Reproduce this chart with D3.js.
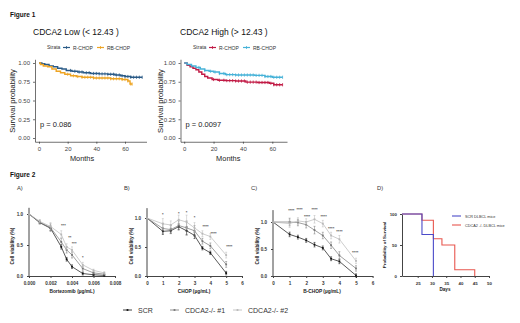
<!DOCTYPE html>
<html><head><meta charset="utf-8">
<script src="https://cdn.jsdelivr.net/npm/d3@7"></script>
<style>body{margin:0;background:#fff} svg{display:block} text{font-family:"Liberation Sans",Arial,sans-serif}</style>
</head><body><svg id="c" width="520" height="323"></svg>
<script>
// ---------- Figure 1 data (Kaplan-Meier) ----------
const kmTicksY = [0, 0.25, 0.5, 0.75, 1];
const kmTicksX = [0, 20, 40, 60];
const lowR_t = [0, 2, 4, 7, 10, 13, 16, 19, 23, 27, 31, 36, 42, 48, 53, 57, 60, 64, 72];
const lowR_s = [1, 0.99, 0.98, 0.96, 0.95, 0.93, 0.92, 0.90, 0.89, 0.88, 0.87, 0.86, 0.855, 0.85, 0.84, 0.83, 0.82, 0.81, 0.81];
const lowR_c = [22,25,28,30,33,35,38,40,42,44,46,48,50,52,54,56,58,60,62,64,66,68,70,72];
const lowRB_t = [0, 1, 3, 6, 9, 12, 15, 18, 22, 26, 30, 38, 50, 58, 62, 63.5, 65];
const lowRB_s = [1, 0.98, 0.96, 0.95, 0.92, 0.89, 0.87, 0.85, 0.83, 0.82, 0.81, 0.80, 0.79, 0.78, 0.76, 0.72, 0.72];
const lowRB_c = [20,24,27,30,32,34,36,38,40,42,44,46,48,50,52,54,56,58,60,62,64,65];
const highR_t = [0, 2, 4, 6, 8, 10, 12, 14, 16, 19, 23, 28, 35, 42, 50, 58, 61, 67];
const highR_s = [1, 0.97, 0.95, 0.93, 0.91, 0.88, 0.85, 0.82, 0.80, 0.78, 0.77, 0.765, 0.76, 0.745, 0.74, 0.73, 0.71, 0.71];
const highR_c = [20,24,27,29,31,33,35,37,39,41,43,45,47,49,51,53,55,57,59,61,63,65,67];
const highRB_t = [0, 2, 5, 8, 11, 14, 17, 20, 24, 28, 35, 48, 55, 60, 67];
const highRB_s = [1, 0.98, 0.96, 0.94, 0.92, 0.90, 0.89, 0.88, 0.86, 0.845, 0.84, 0.835, 0.82, 0.81, 0.81];
const highRB_c = [10,14,18,21,24,27,29,31,33,35,37,39,41,43,45,47,49,51,53,55,57,59,61,63,65,67];

// ---------- Figure 2 data ----------
const A_x = [0, 0.001, 0.002, 0.003, 0.0035, 0.004, 0.005, 0.006, 0.007];
const A_scr = [1.0, 0.86, 0.77, 0.47, 0.27, 0.15, 0.04, 0.02, 0.01];
const A_k1 = [1.0, 0.87, 0.78, 0.55, 0.42, 0.34, 0.12, 0.05, 0.03];
const A_k2 = [1.0, 0.88, 0.80, 0.67, 0.47, 0.42, 0.18, 0.09, 0.05];
const A_err = [0, 0.03, 0.06, 0.06, 0.05, 0.05, 0.04, 0.02, 0.02];
const A_stars = [[0.0032, 0.79, "***"], [0.0038, 0.60, "**"], [0.0042, 0.50, "***"], [0.005, 0.28, "*"]];
const A_ticksX = [0, 0.002, 0.004, 0.006, 0.008];

const B_x = [0, 1, 1.5, 2, 2.5, 3, 3.5, 4, 5];
const B_scr = [1.0, 0.77, 0.78, 0.85, 0.78, 0.70, 0.48, 0.40, 0.05];
const B_k1 = [1.0, 0.82, 0.80, 0.87, 0.83, 0.78, 0.60, 0.52, 0.20];
const B_k2 = [1.0, 0.90, 0.88, 0.97, 0.93, 0.83, 0.73, 0.68, 0.36];
const B_err = [0, 0.09, 0.07, 0.08, 0.12, 0.09, 0.05, 0.05, 0.05];
const B_stars = [[1, 1.03, "*"], [2, 1.05, "*"], [2.5, 1.07, "*"], [3, 0.99, "*"], [3.7, 0.83, "****"], [4.2, 0.71, "****"], [5.2, 0.48, "****"]];
const C_x = [0, 1, 1.5, 2, 2.5, 3, 3.5, 4, 5];
const C_scr = [1.0, 0.77, 0.72, 0.66, 0.58, 0.52, 0.32, 0.27, 0.01];
const C_k1 = [1.0, 1.0, 0.99, 0.95, 0.85, 0.75, 0.57, 0.38, 0.14];
const C_k2 = [1.0, 0.97, 1.02, 1.00, 1.05, 0.97, 0.75, 0.68, 0.28];
const C_err = [0, 0.07, 0.06, 0.06, 0.07, 0.06, 0.06, 0.07, 0.05];
const C_stars = [[1.1, 1.18, "****"], [1.6, 1.2, "****"], [2.05, 1.08, "****"], [2.5, 1.2, "****"], [3.05, 1.08, "****"], [3.5, 0.86, "****"], [4.0, 0.79, "****"], [4.95, 0.41, "****"]];
const BC_ticksX = [0, 1, 2, 3, 4, 5, 6];
const viaTicksY = [0, 0.5, 1.0];

const D_scr_t = [19.5, 26.5, 30.5];
const D_scr_s = [100, 67, 0];
const D_ko_t = [19.5, 26.5, 30.5, 33.5, 38, 45];
const D_ko_s = [100, 90, 60, 50, 10, 0];
const D_ticksX = [25, 30, 35, 40, 45, 50];
const D_ticksY = [0, 50, 100];
const seriesNames = ["SCR", "CDCA2-/- #1", "CDCA2-/- #2"];

const svg = d3.select("#c");
svg.append("rect").attr("width", 520).attr("height", 323).attr("fill", "#fff");

function txt(x, y, s, size, opts = {}) {
  const t = svg.append("text").attr("x", x).attr("y", y).text(s)
    .attr("font-size", size).attr("fill", opts.fill || "#222")
    .attr("text-anchor", opts.anchor || "start");
  if (opts.bold) t.attr("font-weight", "bold");
  if (opts.rot) t.attr("transform", `rotate(-90,${x},${y})`);
  return t;
}

// ---------- Figure 1 ----------
txt(10, 17, "Figure 1", 6.5, {bold: true, fill: "#111"});
function km(cfg) {
  const x = d3.scaleLinear().domain(cfg.xd).range(cfg.xr);
  const y = d3.scaleLinear().domain([-0.05, 1.05]).range([141.75, 59.25]);
  const g = svg.append("g");
  const ax = g.append("g").attr("transform", `translate(${cfg.xr[0]},0)`)
    .call(d3.axisLeft(y).tickValues(kmTicksY).tickFormat(d3.format(".2f")).tickSize(2).tickSizeOuter(0));
  const bx = g.append("g").attr("transform", `translate(0,141.75)`)
    .call(d3.axisBottom(x).tickValues(kmTicksX).tickSize(2).tickSizeOuter(0));
  [ax, bx].forEach(a => { a.selectAll("path,line").attr("stroke", "#333").attr("stroke-width", 0.7);
    a.selectAll("text").attr("font-size", 6).attr("fill", "#444").attr("font-family", "Liberation Sans"); });
  cfg.series.forEach(s => {
    const pts = s.t.map((t, i) => [t, s.s[i]]);
    g.append("path").datum(pts).attr("fill", "none").attr("stroke", s.col).attr("stroke-width", 1.4)
      .attr("d", d3.line().x(d => x(d[0])).y(d => y(d[1])).curve(d3.curveStepAfter));
    s.c.forEach(ct => {
      const sv = s.s[Math.max(0, d3.bisectRight(s.t, ct) - 1)];
      g.append("line").attr("x1", x(ct)).attr("x2", x(ct)).attr("y1", y(sv) - 1.6).attr("y2", y(sv) + 1.6)
        .attr("stroke", s.col).attr("stroke-width", 0.8);
    });
  });
  txt(cfg.title[0], 35, cfg.title[1], 8.5, {fill: "#111"});
  // legend
  let lx = cfg.leg;
  txt(lx, 49, "Strata", 5, {fill: "#333"});
  lx += 16;
  cfg.series.forEach(s => {
    g.append("line").attr("x1", lx).attr("x2", lx + 7).attr("y1", 47.5).attr("y2", 47.5).attr("stroke", s.col).attr("stroke-width", 1.2);
    g.append("line").attr("x1", lx + 3.5).attr("x2", lx + 3.5).attr("y1", 46).attr("y2", 49).attr("stroke", s.col).attr("stroke-width", 0.8);
    txt(lx + 10, 49.5, s.name, 5, {fill: "#333"});
    lx += s.name === "R-CHOP" ? 34 : 36;
  });
  txt(cfg.xr[0] + 5, 127, cfg.p, 7.5, {fill: "#222"});
  txt(cfg.ylab, 101, "Survival probability", 7.6, {rot: true, anchor: "middle", fill: "#222"});
  txt(x(30), 161, "Months", 7.4, {anchor: "middle", fill: "#222"});
}
km({xd: [-2.8, 75], xr: [35, 146.5], title: [33, "CDCA2 Low (< 12.43 )"], leg: 47, p: "p = 0.086", ylab: 15,
  series: [{name: "R-CHOP", col: "#2B5B87", t: lowR_t, s: lowR_s, c: lowR_c},
           {name: "RB-CHOP", col: "#EEA423", t: lowRB_t, s: lowRB_s, c: lowRB_c}]});
km({xd: [-2.5, 70], xr: [180.5, 287], title: [180, "CDCA2 High (> 12.43 )"], leg: 193, p: "p = 0.0097", ylab: 163,
  series: [{name: "R-CHOP", col: "#C11A45", t: highR_t, s: highR_s, c: highR_c},
           {name: "RB-CHOP", col: "#46B2D8", t: highRB_t, s: highRB_s, c: highRB_c}]});

// ---------- Figure 2 ----------
txt(10, 177, "Figure 2", 6.5, {bold: true, fill: "#111"});
const serCols = ["#111", "#777", "#b8b8b8"];
function panel(cfg) {
  const x = d3.scaleLinear().domain(cfg.xd).range(cfg.xr);
  const y = d3.scaleLinear().domain([0, 1]).range([276, cfg.y1]);
  const g = svg.append("g");
  const ax = g.append("g").attr("transform", `translate(${cfg.xr[0]},0)`)
    .call(d3.axisLeft(y).tickValues(viaTicksY).tickFormat(d3.format(".1f")).tickSize(2).tickSizeOuter(0));
  ax.select(".domain").attr("d", `M0,${y(0)}V${y(cfg.ymax)}`);
  const bx = g.append("g").attr("transform", `translate(0,276)`)
    .call(d3.axisBottom(x).tickValues(cfg.ticks).tickFormat(cfg.fmt).tickSize(2).tickSizeOuter(0));
  [ax, bx].forEach(a => { a.selectAll("path,line").attr("stroke", "#444").attr("stroke-width", 1);
    a.selectAll("text").attr("font-size", 4.6).attr("font-weight", "bold").attr("fill", "#333").attr("font-family", "Liberation Sans"); });
  bx.selectAll("text").attr("dy", "0.9em");
  ax.selectAll("text").attr("dx", "-0.2em");
  const series = [cfg.scr, cfg.k1, cfg.k2];
  series.forEach((vals, si) => {
    const pts = cfg.xs.map((v, i) => [v, vals[i]]);
    g.append("path").datum(pts).attr("fill", "none").attr("stroke", serCols[si]).attr("stroke-width", 0.7)
      .attr("d", d3.line().x(d => x(d[0])).y(d => y(d[1])));
    pts.forEach((d, i) => {
      const e = cfg.err[i] * (si === 0 ? 0.6 : 1);
      if (e > 0) {
        g.append("line").attr("x1", x(d[0])).attr("x2", x(d[0])).attr("y1", y(d[1] - e)).attr("y2", y(d[1] + e)).attr("stroke", serCols[si]).attr("stroke-width", 0.5);
        [d[1] - e, d[1] + e].forEach(v => g.append("line").attr("x1", x(d[0]) - 1).attr("x2", x(d[0]) + 1).attr("y1", y(v)).attr("y2", y(v)).attr("stroke", serCols[si]).attr("stroke-width", 0.5));
      }
      g.append("rect").attr("x", x(d[0]) - 0.9).attr("y", y(d[1]) - 0.9).attr("width", 1.8).attr("height", 1.8).attr("fill", serCols[si]);
    });
  });
  cfg.stars.forEach(s => txt(x(s[0]), y(s[1]), s[2], 4, {anchor: "middle", fill: "#555", bold: true}));
  txt(cfg.lab[0], 190, cfg.lab[1], 5.8, {fill: "#333"});
  txt(cfg.ylx, 246, "Cell viability (%)", 4.8, {rot: true, anchor: "middle", bold: true, fill: "#222"});
  txt(cfg.xlc, 293, cfg.xlab, 4.8, {anchor: "middle", bold: true, fill: "#222"});
}
panel({xd: [0, 0.008], xr: [29, 115], y1: 214, ymax: 1.1, xs: A_x, scr: A_scr, k1: A_k1, k2: A_k2, err: A_err,
  stars: A_stars, ticks: A_ticksX, fmt: d3.format(".3f"), lab: [17, "A)"], ylx: 14, xlc: 72, xlab: "Bortezomib (µg/mL)"});
panel({xd: [0, 6], xr: [147, 242], y1: 218, ymax: 1.17, xs: B_x, scr: B_scr, k1: B_k1, k2: B_k2, err: B_err,
  stars: B_stars, ticks: BC_ticksX, fmt: d3.format("d"), lab: [124, "B)"], ylx: 133, xlc: 194, xlab: "CHOP (µg/mL)"});
panel({xd: [0, 6], xr: [273, 372.6], y1: 222, ymax: 1.22, xs: C_x, scr: C_scr, k1: C_k1, k2: C_k2, err: C_err,
  stars: C_stars, ticks: BC_ticksX, fmt: d3.format("d"), lab: [251, "C)"], ylx: 259, xlc: 322, xlab: "B-CHOP (µg/mL)"});

// Panel D
(function () {
  const x = d3.scaleLinear().domain([19.5, 50]).range([402, 489]);
  const y = d3.scaleLinear().domain([0, 100]).range([276, 214]);
  const g = svg.append("g");
  const ax = g.append("g").attr("transform", `translate(402,0)`)
    .call(d3.axisLeft(y).tickValues(D_ticksY).tickSize(2).tickSizeOuter(0));
  const bx = g.append("g").attr("transform", `translate(0,276)`)
    .call(d3.axisBottom(x).tickValues(D_ticksX).tickSize(2).tickSizeOuter(0));
  [ax, bx].forEach(a => { a.selectAll("path,line").attr("stroke", "#444").attr("stroke-width", 1);
    a.selectAll("text").attr("font-size", 4.4).attr("font-weight", "bold").attr("fill", "#333").attr("font-family", "Liberation Sans"); });
  bx.selectAll("text").attr("dy", "0.9em");
  const ser = [[D_scr_t, D_scr_s, "#4B4BC9"], [D_ko_t, D_ko_s, "#E8574F"]];
  ser.slice().reverse().forEach(s => {
    const pts = s[0].map((t, i) => [t, s[1][i]]);
    g.append("path").datum(pts).attr("fill", "none").attr("stroke", s[2]).attr("stroke-width", 1.1)
      .attr("d", d3.line().x(d => x(d[0])).y(d => y(d[1])).curve(d3.curveStepAfter));
  });
  const legNames = ["SCR DLBCL mice", "CDCA2 -/- DLBCL mice"];
  ser.forEach((s, i) => {
    const ly = 216 + i * 9;
    g.append("line").attr("x1", 452).attr("x2", 461).attr("y1", ly).attr("y2", ly).attr("stroke", s[2]).attr("stroke-width", 1.1);
    txt(465, ly + 1.5, legNames[i], 3.8, {fill: "#333"});
  });
  txt(377, 190, "D)", 5.8, {fill: "#333"});
  txt(386, 245, "Probability of Survival", 4.4, {rot: true, anchor: "middle", bold: true, fill: "#222"});
  txt(445, 291, "Days", 4.6, {anchor: "middle", bold: true, fill: "#222"});
})();

// bottom legend
const legX = [123, 170, 233];
seriesNames.forEach((n, i) => {
  svg.append("line").attr("x1", legX[i]).attr("x2", legX[i] + 9).attr("y1", 310).attr("y2", 310).attr("stroke", serCols[i]).attr("stroke-width", 0.8);
  svg.append("rect").attr("x", legX[i] + 3.6).attr("y", 309.1).attr("width", 1.8).attr("height", 1.8).attr("fill", serCols[i]);
  txt(legX[i] + 15, 312.5, n, 7, {fill: "#333"});
});
</script></body></html>
